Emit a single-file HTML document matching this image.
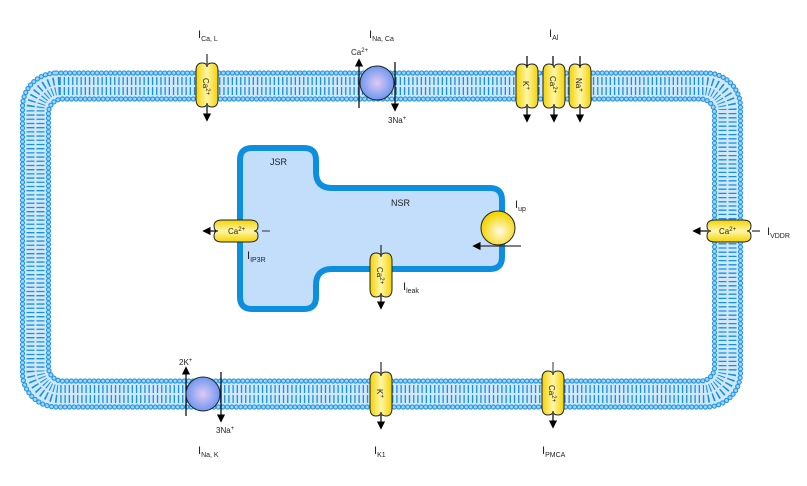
<!DOCTYPE html>
<html><head><meta charset="utf-8"><style>
html,body{margin:0;padding:0;background:#fff;}
svg{display:block;}
text{font-family:"Liberation Sans",sans-serif;fill:#222;}
</style></head><body>
<svg width="807" height="486" viewBox="0 0 807 486" xmlns="http://www.w3.org/2000/svg">
<defs>
<linearGradient id="yg" x1="0" x2="1" y1="0" y2="0">
<stop offset="0" stop-color="#f2d200"/><stop offset="0.5" stop-color="#fff6a8"/><stop offset="1" stop-color="#f2d200"/></linearGradient>
<linearGradient id="yh" x1="0" x2="0" y1="0" y2="1">
<stop offset="0" stop-color="#f2d200"/><stop offset="0.5" stop-color="#fff6a8"/><stop offset="1" stop-color="#f2d200"/></linearGradient>
<radialGradient id="bg" cx="0.5" cy="0.5" r="0.5"><stop offset="0" stop-color="#e0c8f4"/><stop offset="1" stop-color="#6f98f0"/></radialGradient>
<radialGradient id="yc" cx="0.55" cy="0.6" r="0.55"><stop offset="0" stop-color="#fffbe6"/><stop offset="1" stop-color="#f4d400"/></radialGradient>
<marker id="ah" viewBox="0 0 10 10" refX="8" refY="5" markerWidth="7" markerHeight="7" orient="auto"><path d="M0,0 L10,5 L0,10 Z" fill="#000"/></marker>
<path id="vch" d="M-11,-14 q0-8 6-8 q5 0 5 4 q0-4 5-4 q6 0 6 8 v28 q0 8-6 8 q-5 0-5-4 q0 4-5 4 q-6 0-6-8 Z" fill="url(#yg)" stroke="#222" stroke-width="1"/>
<path id="hch" d="M-14,-11 q-8 0-8 6 q0 5 4 5 q-4 0-4 5 q0 6 8 6 h28 q8 0 8-6 q0-5-4-5 q4 0 4-5 q0-6-8-6 Z" fill="url(#yh)" stroke="#222" stroke-width="1"/>
</defs>

<!-- membrane -->
<rect x="35.5" y="86" width="692" height="308" rx="24" fill="none" stroke="#cfe8fb" stroke-width="27"/>
<rect x="35.5" y="86" width="692" height="308" rx="24" fill="none" stroke="#1a8fe0" stroke-width="18" stroke-dasharray="1.3 2.9"/>
<rect x="35.5" y="86" width="692" height="308" rx="24" fill="none" stroke="#cfe8fb" stroke-width="2"/>
<rect x="22.5" y="73" width="718" height="334" rx="34" fill="none" stroke="#2196e6" stroke-width="5.2" stroke-dasharray="0.01 4.5" stroke-linecap="round"/>
<rect x="22.5" y="73" width="718" height="334" rx="34" fill="none" stroke="#a4d3f7" stroke-width="3" stroke-dasharray="0.01 4.5" stroke-linecap="round"/>
<rect x="48.5" y="99" width="666" height="282" rx="14" fill="none" stroke="#2196e6" stroke-width="5.2" stroke-dasharray="0.01 4.5" stroke-linecap="round"/>
<rect x="48.5" y="99" width="666" height="282" rx="14" fill="none" stroke="#a4d3f7" stroke-width="3" stroke-dasharray="0.01 4.5" stroke-linecap="round"/>

<!-- SR -->
<path d="M240 160 q0-12 12-12 h52 q12 0 12 12 v12 q0 16 16 16 h158 q12 0 12 12 v57 q0 12-12 12 h-158 q-16 0-16 16 v12 q0 12-12 12 h-52 q-12 0-12-12 Z" fill="#c2defb" stroke="#0d8fe0" stroke-width="6"/>
<text x="270" y="165" font-size="9">JSR</text>
<text x="391" y="206" font-size="9">NSR</text>

<!-- ICa,L -->
<line x1="207" y1="54" x2="207" y2="64" stroke="#000" stroke-width="1"/>
<use href="#vch" x="207" y="85"/>
<line x1="207" y1="106" x2="207" y2="120" stroke="#000" stroke-width="1.2" marker-end="url(#ah)"/>
<text transform="translate(203,78) rotate(90)" font-size="8">Ca<tspan font-size="6" dy="-3">2+</tspan></text>
<text x="198" y="38" font-size="11">I<tspan font-size="7" dy="3">Ca, L</tspan></text>

<!-- INa,Ca -->
<line x1="359" y1="108" x2="359" y2="60" stroke="#000" stroke-width="1.2" marker-end="url(#ah)"/>
<line x1="395" y1="62" x2="395" y2="110" stroke="#000" stroke-width="1.2" marker-end="url(#ah)"/>
<circle cx="377" cy="83" r="17" fill="url(#bg)" stroke="#222" stroke-width="1"/>
<text x="351" y="55" font-size="8">Ca<tspan font-size="6" dy="-3">2+</tspan></text>
<text x="388" y="123" font-size="8">3Na<tspan font-size="6" dy="-3">+</tspan></text>
<text x="369" y="38" font-size="11">I<tspan font-size="7" dy="3">Na, Ca</tspan></text>

<!-- IAl -->
<g stroke="#000" stroke-width="1.2">
<line x1="527" y1="56" x2="527" y2="66"/><line x1="553" y1="56" x2="553" y2="66"/><line x1="580" y1="56" x2="580" y2="66"/>
</g>
<use href="#vch" x="527" y="86"/><use href="#vch" x="554" y="86"/><use href="#vch" x="580" y="86"/>
<g stroke="#000" stroke-width="1.2">
<line x1="527" y1="107" x2="527" y2="121" marker-end="url(#ah)"/>
<line x1="554" y1="107" x2="554" y2="121" marker-end="url(#ah)"/>
<line x1="580" y1="107" x2="580" y2="121" marker-end="url(#ah)"/>
</g>
<text transform="translate(523,81) rotate(90)" font-size="8">K<tspan font-size="6" dy="-3">+</tspan></text>
<text transform="translate(550,76) rotate(90)" font-size="8">Ca<tspan font-size="6" dy="-3">2+</tspan></text>
<text transform="translate(576,78) rotate(90)" font-size="8">Na<tspan font-size="6" dy="-3">+</tspan></text>
<text x="549" y="37" font-size="11">I<tspan font-size="7" dy="3">Al</tspan></text>

<!-- IIP3R -->
<line x1="262" y1="231" x2="270" y2="231" stroke="#333" stroke-width="1"/>
<use href="#hch" x="236" y="231"/>
<line x1="216" y1="231" x2="204" y2="231" stroke="#000" stroke-width="1.2" marker-end="url(#ah)"/>
<text x="228" y="234" font-size="8">Ca<tspan font-size="6" dy="-3">2+</tspan></text>
<text x="247" y="259" font-size="11">I<tspan font-size="7" dy="3">IP3R</tspan></text>

<!-- Iup -->
<circle cx="498" cy="228" r="17" fill="url(#yc)" stroke="#222" stroke-width="1"/>
<line x1="521" y1="246" x2="474" y2="246" stroke="#333" stroke-width="1.2" marker-end="url(#ah)"/>
<text x="515" y="208" font-size="11">I<tspan font-size="7" dy="3">up</tspan></text>

<!-- Ileak -->
<line x1="381" y1="245" x2="381" y2="254" stroke="#000" stroke-width="1"/>
<use href="#vch" x="381" y="275"/>
<line x1="381" y1="296" x2="381" y2="308" stroke="#000" stroke-width="1.2" marker-end="url(#ah)"/>
<text transform="translate(377,267) rotate(90)" font-size="8">Ca<tspan font-size="6" dy="-3">2+</tspan></text>
<text x="403" y="290" font-size="11">I<tspan font-size="7" dy="3">leak</tspan></text>

<!-- IVDDR -->
<line x1="752" y1="231" x2="760" y2="231" stroke="#000" stroke-width="1"/>
<use href="#hch" x="729" y="231"/>
<line x1="708" y1="231" x2="694" y2="231" stroke="#000" stroke-width="1.2" marker-end="url(#ah)"/>
<text x="719" y="234" font-size="8">Ca<tspan font-size="6" dy="-3">2+</tspan></text>
<text x="767" y="235" font-size="11">I<tspan font-size="7" dy="3">VDDR</tspan></text>

<!-- INa,K -->
<line x1="186" y1="416" x2="186" y2="368" stroke="#000" stroke-width="1.2" marker-end="url(#ah)"/>
<line x1="221" y1="372" x2="221" y2="421" stroke="#000" stroke-width="1.2" marker-end="url(#ah)"/>
<circle cx="203" cy="394" r="17" fill="url(#bg)" stroke="#222" stroke-width="1"/>
<text x="179" y="365" font-size="8">2K<tspan font-size="6" dy="-3">+</tspan></text>
<text x="216" y="433" font-size="8">3Na<tspan font-size="6" dy="-3">+</tspan></text>
<text x="198" y="454" font-size="11">I<tspan font-size="7" dy="3">Na, K</tspan></text>

<!-- IK1 -->
<line x1="381" y1="362" x2="381" y2="373" stroke="#000" stroke-width="1"/>
<use href="#vch" x="381" y="394"/>
<line x1="381" y1="415" x2="381" y2="428" stroke="#000" stroke-width="1.2" marker-end="url(#ah)"/>
<text transform="translate(377,389) rotate(90)" font-size="8">K<tspan font-size="6" dy="-3">+</tspan></text>
<text x="374" y="454" font-size="11">I<tspan font-size="7" dy="3">K1</tspan></text>

<!-- IPMCA -->
<line x1="553" y1="362" x2="553" y2="372" stroke="#333" stroke-width="1"/>
<use href="#vch" x="553" y="393"/>
<line x1="553" y1="414" x2="553" y2="427" stroke="#000" stroke-width="1.2" marker-end="url(#ah)"/>
<text transform="translate(549,385) rotate(90)" font-size="8">Ca<tspan font-size="6" dy="-3">2+</tspan></text>
<text x="542" y="454" font-size="11">I<tspan font-size="7" dy="3">PMCA</tspan></text>
</svg>
</body></html>
